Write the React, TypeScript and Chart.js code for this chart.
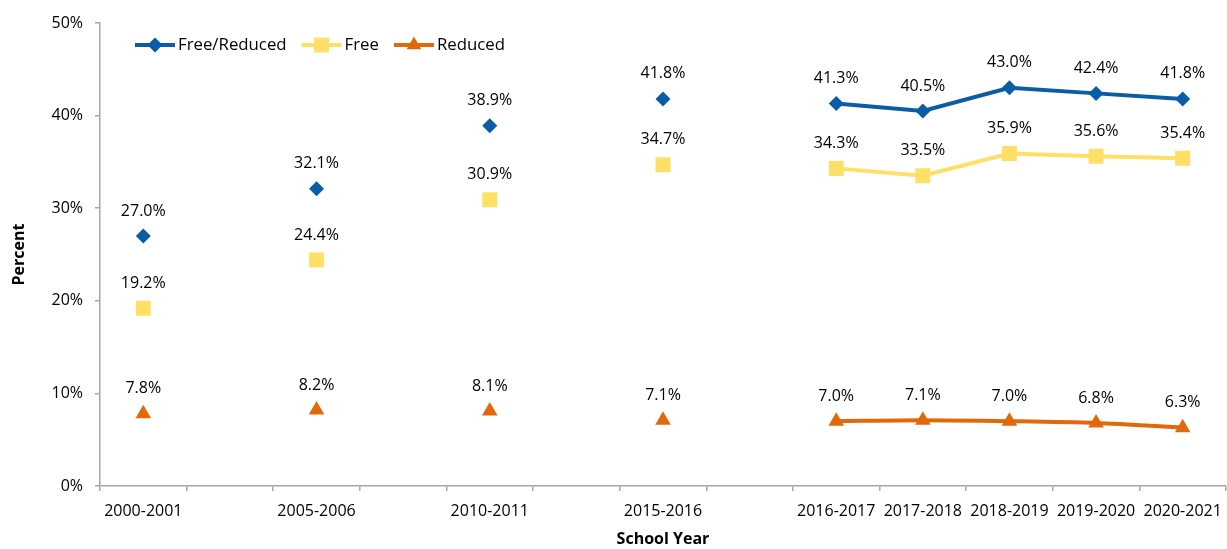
import React, { useEffect, useRef } from "react";
import { Chart, registerables } from "chart.js";

Chart.register(...registerables);

// Category slots (blank slots separate the non-consecutive years, as in the source chart)
const categories: string[] = [
  "2000-2001", "", "2005-2006", "", "2010-2011", "", "2015-2016", "",
  "2016-2017", "2017-2018", "2018-2019", "2019-2020", "2020-2021",
];

const freeReduced: (number | null)[] = [27.0, null, 32.1, null, 38.9, null, 41.8, null, 41.3, 40.5, 43.0, 42.4, 41.8];
const free: (number | null)[] = [19.2, null, 24.4, null, 30.9, null, 34.7, null, 34.3, 33.5, 35.9, 35.6, 35.4];
const reduced: (number | null)[] = [7.8, null, 8.2, null, 8.1, null, 7.1, null, 7.0, 7.1, 7.0, 6.8, 6.3];

const seriesNames = ["Free/Reduced", "Free", "Reduced"];
const yTicks = [0, 10, 20, 30, 40, 50];

const BLUE = "#0b5ca6";
const YELLOW = "#ffe066";
const ORANGE = "#e2690a";
const AXIS = "#a6a6a6";
const FONT = "'Open Sans', 'Noto Sans', sans-serif";

function markerPath(ctx: CanvasRenderingContext2D, style: string, x: number, y: number) {
  ctx.beginPath();
  if (style === "rectRot") {
    const r = 7.5;
    ctx.moveTo(x, y - r);
    ctx.lineTo(x + r, y);
    ctx.lineTo(x, y + r);
    ctx.lineTo(x - r, y);
  } else if (style === "rect") {
    const s = 7.5;
    ctx.rect(x - s, y - s, 2 * s, 2 * s);
  } else {
    const r = 8.5;
    ctx.moveTo(x, y - r);
    ctx.lineTo(x + r * 0.866, y + r * 0.5);
    ctx.lineTo(x - r * 0.866, y + r * 0.5);
  }
  ctx.closePath();
}

const labelPlugin = {
  id: "valueLabels",
  afterDatasetsDraw(chart: any) {
    const ctx = chart.ctx as CanvasRenderingContext2D;
    ctx.save();
    ctx.font = `16px ${FONT}`;
    ctx.fillStyle = "#000";
    ctx.textAlign = "center";
    ctx.textBaseline = "middle";
    chart.data.datasets.forEach((ds: any, i: number) => {
      const meta = chart.getDatasetMeta(i);
      meta.data.forEach((pt: any, j: number) => {
        const v = ds.data[j];
        if (v === null || v === undefined) return;
        ctx.fillText(v.toFixed(1) + "%", pt.x, pt.y - 25);
      });
    });
    ctx.restore();
  },
};

const legendPlugin = {
  id: "customLegend",
  afterDraw(chart: any) {
    const ctx = chart.ctx as CanvasRenderingContext2D;
    ctx.save();
    ctx.font = `16.8px ${FONT}`;
    ctx.textBaseline = "middle";
    ctx.textAlign = "left";
    let x = chart.chartArea.left + 35;
    const y = chart.chartArea.top + 22;
    chart.data.datasets.forEach((ds: any) => {
      ctx.strokeStyle = ds.borderColor;
      ctx.lineWidth = 4;
      ctx.beginPath();
      ctx.moveTo(x, y);
      ctx.lineTo(x + 40, y);
      ctx.stroke();
      ctx.fillStyle = ds.pointBackgroundColor;
      markerPath(ctx, ds.pointStyle, x + 20, y);
      ctx.fill();
      ctx.fillStyle = "#000";
      ctx.fillText(ds.label, x + 43, y);
      x += 43 + ctx.measureText(ds.label).width + 15;
    });
    ctx.restore();
  },
};

export default function App() {
  const ref = useRef<HTMLCanvasElement | null>(null);

  useEffect(() => {
    if (!ref.current) return;
    const mk = (label: string, data: (number | null)[], color: string, style: string, radius: number, tension: number) => ({
      label,
      data,
      borderColor: color,
      backgroundColor: color,
      pointBackgroundColor: color,
      pointBorderColor: color,
      pointBorderWidth: 0,
      pointStyle: style,
      pointRadius: radius,
      borderWidth: 4,
      tension,
      spanGaps: false,
    });
    const chart = new Chart(ref.current, {
      type: "line",
      data: {
        labels: categories,
        datasets: [
          mk(seriesNames[0], freeReduced, BLUE, "rectRot", 7.5, 0),
          mk(seriesNames[1], free, YELLOW, "rect", 10.6, 0),
          mk(seriesNames[2], reduced, ORANGE, "triangle", 9, 0.3),
        ],
      },
      options: {
        responsive: false,
        animation: false,
        layout: { autoPadding: false, padding: { top: 23, right: 1, left: 0, bottom: 0 } },
        plugins: { legend: { display: false }, tooltip: { enabled: false } },
        scales: {
          x: {
            offset: true,
            afterFit: (s: any) => { s.height = 63; s.paddingLeft = 0; s.paddingRight = 0; },
            border: { color: AXIS, width: 1.5 },
            grid: { offset: true, drawOnChartArea: false, drawTicks: true, tickLength: 5, color: AXIS, lineWidth: 1.5 },
            ticks: { autoSkip: false, maxRotation: 0, padding: 11, color: "#000", font: { family: FONT, size: 16 } },
            title: { display: true, text: "School Year", color: "#000", font: { family: FONT, size: 16, weight: "bold" }, padding: { top: 0, bottom: 0 } },
          },
          y: {
            min: 0,
            max: 50,
            afterFit: (s: any) => { s.width = 100; s.paddingTop = 0; s.paddingBottom = 0; },
            afterBuildTicks: (s: any) => { s.ticks = yTicks.map((v) => ({ value: v })); },
            border: { color: AXIS, width: 1.5 },
            grid: { drawOnChartArea: false, drawTicks: true, tickLength: 5, color: AXIS, lineWidth: 1.5 },
            ticks: { padding: 12, color: "#000", font: { family: FONT, size: 16 }, callback: (v: any) => v + "%" },
            title: { display: true, text: "Percent", color: "#000", font: { family: FONT, size: 16, weight: "bold" }, padding: { top: 10, bottom: 0 } },
          },
        },
      },
      plugins: [labelPlugin, legendPlugin],
    } as any);
    return () => chart.destroy();
  }, []);

  return (
    <div style={{ position: "fixed", left: 0, top: 0, width: 1227, height: 549, background: "#fff" }}>
      <canvas ref={ref} width={1227} height={549} />
    </div>
  );
}
